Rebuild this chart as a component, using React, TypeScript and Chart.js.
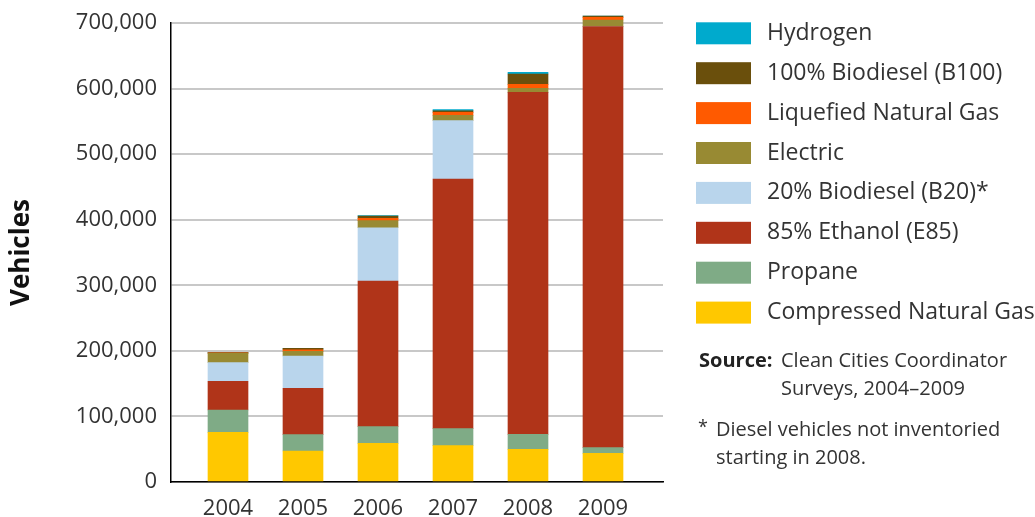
import React, { useEffect, useRef } from "react";
import { Chart, registerables } from "chart.js";

Chart.register(...registerables);

const years = ["2004", "2005", "2006", "2007", "2008", "2009"];
const yTicks = [0, 100000, 200000, 300000, 400000, 500000, 600000, 700000];

// stacked from bottom to top
const seriesLabels = [
  "Compressed Natural Gas",
  "Propane",
  "85% Ethanol (E85)",
  "20% Biodiesel (B20)*",
  "Electric",
  "Liquefied Natural Gas",
  "100% Biodiesel (B100)",
  "Hydrogen",
];
const cng = [75800, 47300, 59000, 55400, 49800, 43700];
const propane = [34000, 24900, 25400, 25900, 22900, 8700];
const e85 = [43800, 70700, 222100, 380800, 521600, 642000];
const b20 = [28400, 49300, 81300, 88900, 0, 0];
const electric = [14200, 7000, 10700, 8100, 6100, 10200];
const lng = [800, 2500, 3600, 4600, 6100, 4100];
const b100 = [300, 2000, 3500, 2400, 15700, 2000];
const hydrogen = [0, 0, 800, 1800, 2500, 0];
const seriesValues = [cng, propane, e85, b20, electric, lng, b100, hydrogen];
const seriesColors = [
  "#ffc800",
  "#7fab86",
  "#b03419",
  "#b9d5ec",
  "#988a33",
  "#ff5a00",
  "#6a4f0c",
  "#00aacd",
];

const FONT = "'Open Sans', 'Noto Sans', sans-serif";
const TEXT = "#333333";

const sidePlugin = {
  id: "sidePanel",
  afterDraw(chart: any) {
    const ctx = chart.ctx as CanvasRenderingContext2D;
    ctx.save();
    const boxX = 696;
    const boxW = 55;
    const boxH = 22;
    const textX = 767;
    const y0 = 33.3;
    const step = 39.9;
    const n = seriesLabels.length;
    ctx.textBaseline = "middle";
    ctx.textAlign = "left";
    for (let k = 0; k < n; k++) {
      const i = n - 1 - k;
      const cy = y0 + step * k;
      ctx.fillStyle = seriesColors[i];
      ctx.fillRect(boxX, cy - boxH / 2, boxW, boxH);
      ctx.fillStyle = TEXT;
      ctx.font = `23px ${FONT}`;
      ctx.fillText(seriesLabels[i], textX, cy);
    }
    ctx.fillStyle = "#222";
    ctx.font = `bold 20px ${FONT}`;
    ctx.fillText("Source:", 699, 361.7);
    ctx.fillStyle = TEXT;
    ctx.font = `20px ${FONT}`;
    ctx.fillText("Clean Cities Coordinator", 781, 361.7);
    ctx.fillText("Surveys, 2004–2009", 781, 389);
    ctx.font = `18px ${FONT}`;
    ctx.fillText("*", 698, 428);
    ctx.font = `20px ${FONT}`;
    ctx.fillText("Diesel vehicles not inventoried", 716, 430.7);
    ctx.fillText("starting in 2008.", 716, 458);
    ctx.restore();
  },
};

export default function App() {
  const ref = useRef<HTMLCanvasElement | null>(null);
  useEffect(() => {
    if (!ref.current) return;
    const datasets = seriesLabels.map((label, s) => ({
      label,
      data: seriesValues[s].map((v, i) => ({ x: i, y: v })),
      backgroundColor: seriesColors[s],
      borderWidth: 0,
      barThickness: 40,
      clip: false as any,
    }));
    const chart = new Chart(ref.current, {
      type: "bar",
      data: { datasets },
      options: {
        responsive: false,
        animation: false,
        devicePixelRatio: 1,
        layout: { padding: { top: 23, right: 372, bottom: 0, left: 0 } },
        plugins: { legend: { display: false }, tooltip: { enabled: false } },
        scales: {
          x: {
            type: "linear",
            min: -0.76,
            max: 5.8,
            offset: false,
            stacked: true,
            grid: { display: true, drawOnChartArea: false, drawTicks: false, offset: false },
            border: { display: true, color: "#000", width: 1.5 },
            afterBuildTicks: (s: any) => {
              s.ticks = years.map((_, i) => ({ value: i }));
            },
            ticks: {
              callback: (v: any) => years[v as number] ?? "",
              font: { family: FONT, size: 22 },
              color: TEXT,
              padding: 14,
              autoSkip: false,
              maxRotation: 0,
            },
            afterFit: (s: any) => {
              s.height = 35;
              s.paddingLeft = 0;
              s.paddingRight = 0;
            },
          },
          y: {
            stacked: true,
            min: 0,
            max: 700000,
            afterBuildTicks: (s: any) => {
              s.ticks = yTicks.map((v) => ({ value: v }));
            },
            ticks: {
              callback: (v: any) => Number(v).toLocaleString("en-US"),
              font: { family: FONT, size: 22 },
              color: TEXT,
              padding: 14,
            },
            grid: { color: "#c8c8c8", lineWidth: 2, drawTicks: false },
            border: { color: "#000", width: 1.5 },
            title: {
              display: true,
              text: "Vehicles",
              font: { family: FONT, size: 26, weight: "bold" },
              color: "#111",
              padding: { top: 6, bottom: 0 },
            },
            afterFit: (s: any) => {
              s.width = 171;
              s.paddingTop = 0;
              s.paddingBottom = 0;
            },
          },
        },
      },
      plugins: [sidePlugin],
    } as any);
    return () => chart.destroy();
  }, []);
  return (
    <canvas
      ref={ref}
      width={1035}
      height={517}
      style={{ display: "block", position: "fixed", left: 0, top: 0, width: 1035, height: 517 }}
    />
  );
}
